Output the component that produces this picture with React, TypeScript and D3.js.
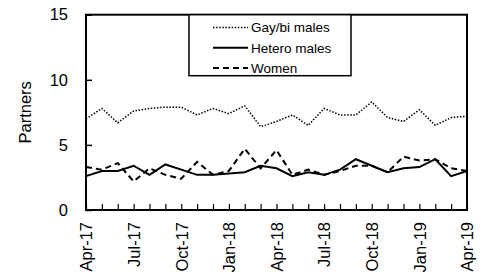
import React, { useRef, useEffect } from 'react';
import * as d3 from 'd3';

const months = [
  'Apr-17', 'May-17', 'Jun-17', 'Jul-17', 'Aug-17', 'Sep-17', 'Oct-17', 'Nov-17', 'Dec-17',
  'Jan-18', 'Feb-18', 'Mar-18', 'Apr-18', 'May-18', 'Jun-18', 'Jul-18', 'Aug-18', 'Sep-18',
  'Oct-18', 'Nov-18', 'Dec-18', 'Jan-19', 'Feb-19', 'Mar-19', 'Apr-19',
];
const gayBi = [7.0, 7.8, 6.7, 7.6, 7.8, 7.9, 7.9, 7.3, 7.8, 7.4, 8.0, 6.4, 6.8, 7.3, 6.5, 7.8, 7.3, 7.3, 8.3, 7.1, 6.8, 7.7, 6.5, 7.1, 7.2];
const hetero = [2.6, 3.0, 3.0, 3.4, 2.7, 3.5, 3.1, 2.7, 2.7, 2.8, 2.9, 3.4, 3.2, 2.6, 2.9, 2.7, 3.1, 3.9, 3.4, 2.9, 3.2, 3.3, 3.9, 2.6, 3.0];
const women = [3.3, 3.1, 3.6, 2.2, 3.2, 2.7, 2.4, 3.7, 2.7, 3.0, 4.7, 3.2, 4.6, 2.7, 3.1, 2.7, 3.0, 3.4, 3.4, 2.9, 4.1, 3.8, 3.9, 3.2, 3.0];
const yTicks = [0, 5, 10, 15];

const series = [
  { name: 'Gay/bi males', values: gayBi, width: 1.5, dash: '1.5,1.6' },
  { name: 'Hetero males', values: hetero, width: 2, dash: null },
  { name: 'Women', values: women, width: 2, dash: '6,4' },
];

export default function App() {
  const ref = useRef<SVGSVGElement>(null);
  useEffect(() => {
    const W = 483, H = 278;
    const m = { left: 86, right: 16, top: 14.7, bottom: 68 };
    const svg = d3.select(ref.current);
    svg.selectAll('*').remove();
    const font = '"Liberation Sans", Arial, sans-serif';

    const x = d3.scalePoint<string>().domain(months).range([m.left, W - m.right]);
    const y = d3.scaleLinear().domain([0, 15]).range([H - m.bottom, m.top]);

    // lines
    const line = d3.line<number>().x((_, i) => x(months[i])!).y(d => y(d));
    series.forEach(s => {
      svg.append('path')
        .attr('d', line(s.values)!)
        .attr('fill', 'none')
        .attr('stroke', '#000')
        .attr('stroke-width', s.width)
        .attr('stroke-dasharray', s.dash)
        .attr('stroke-linejoin', 'miter');
    });

    // y axis
    const ya = svg.append('g').attr('transform', `translate(${m.left},0)`)
      .call(d3.axisLeft(y).tickValues(yTicks).tickSizeInner(-6).tickSizeOuter(0).tickPadding(18));
    ya.select('.domain').remove();
    ya.selectAll('line').attr('stroke-width', 1.5);
    ya.selectAll('text').attr('font-family', font).attr('font-size', 16.5).attr('fill', '#000');

    // x axis
    const xa = svg.append('g').attr('transform', `translate(0,${H - m.bottom})`)
      .call(d3.axisBottom(x).tickValues(months).tickSizeInner(-6).tickSizeOuter(0).tickFormat((d, i) => (i % 3 === 0 ? d : '')));
    xa.select('.domain').remove();
    xa.selectAll('line').attr('stroke-width', 1.2);
    xa.selectAll('text')
      .attr('font-family', font).attr('font-size', 16.5).attr('fill', '#000')
      .attr('transform', 'rotate(-90)')
      .attr('text-anchor', 'end')
      .attr('x', -12).attr('y', 0).attr('dy', '0.35em');

    // frame
    svg.append('rect')
      .attr('x', m.left).attr('y', m.top)
      .attr('width', W - m.right - m.left).attr('height', H - m.bottom - m.top)
      .attr('fill', 'none').attr('stroke', '#000').attr('stroke-width', 2);

    // y label
    svg.append('text')
      .attr('transform', `translate(31,${(m.top + H - m.bottom) / 2}) rotate(-90)`)
      .attr('text-anchor', 'middle')
      .attr('font-family', font).attr('font-size', 16.5)
      .text('Partners');

    // legend
    const lg = svg.append('g');
    lg.append('rect').attr('x', 189).attr('y', m.top).attr('width', 162).attr('height', 61)
      .attr('fill', '#fff').attr('stroke', '#000').attr('stroke-width', 1.5);
    series.forEach((s, i) => {
      const yy = 27.5 + i * 20.3;
      lg.append('line').attr('x1', 213).attr('x2', 248).attr('y1', yy).attr('y2', yy)
        .attr('stroke', '#000').attr('stroke-width', s.width).attr('stroke-dasharray', s.dash);
      lg.append('text').attr('x', 251).attr('y', yy).attr('dy', '0.35em')
        .attr('font-family', font).attr('font-size', 13.5).text(s.name);
    });
  }, []);
  return <svg ref={ref} width={483} height={278} style={{ position: 'absolute', left: 0, top: 0, background: '#fff' }} />;
}
